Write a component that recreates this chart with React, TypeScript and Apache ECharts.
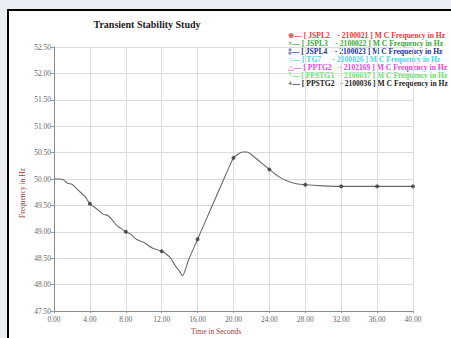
import React, { useEffect, useRef } from "react";
import * as echarts from "echarts";

const times = [0, 0.5, 1, 1.5, 2, 2.5, 3, 3.5, 4, 4.5, 5, 5.5, 6, 6.5, 7, 7.5, 8, 8.5, 9, 9.5, 10, 10.5, 11, 11.5, 12, 12.5, 13, 13.5, 14, 14.3, 15, 16, 17, 18, 19, 19.5, 20, 20.5, 21, 21.5, 22, 23, 24, 25, 26, 27, 28, 30, 32, 34, 36, 38, 40];
const freq = [50.0, 50.0, 49.99, 49.92, 49.9, 49.82, 49.74, 49.66, 49.53, 49.47, 49.4, 49.33, 49.31, 49.22, 49.12, 49.06, 49.0, 48.96, 48.88, 48.83, 48.8, 48.74, 48.69, 48.66, 48.63, 48.58, 48.5, 48.36, 48.25, 48.17, 48.47, 48.86, 49.25, 49.64, 50.03, 50.22, 50.4, 50.47, 50.51, 50.51, 50.46, 50.32, 50.18, 50.05, 49.96, 49.91, 49.89, 49.87, 49.86, 49.86, 49.86, 49.86, 49.86];
const markerTimes = [4, 8, 12, 16, 20, 24, 28, 32, 36, 40];

const legendLabels = [
  "⊕— [ JSPL2    - 2100021 ] M C Frequency in Hz",
  "×— [ JSPL3    - 2100022 ] M C Frequency in Hz",
  "‡— [ JSPL4    - 2100023 ] M C Frequency in Hz",
  "○— [ TG7      - 2100026 ] M C Frequency in Hz",
  "△— [ PPTG2    - 2102169 ] M C Frequency in Hz",
  "*— [ PPSTG3   - 2100037 ] M C Frequency in Hz",
  "+— [ PPSTG2   - 2100036 ] M C Frequency in Hz",
];
const legendColors = ["#e83a3a", "#3aa83a", "#22309a", "#4cd4e4", "#e048e0", "#66e066", "#222222"];

const title = "Transient Stability Study";
const xName = "Time in Seconds";
const yName = "Frequency in Hz";

export default function App() {
  const ref = useRef<HTMLDivElement>(null);
  useEffect(() => {
    const chart = echarts.init(ref.current!, null, { renderer: "svg" });
    const lineData = times.map((t, i) => [t, freq[i]]);
    const markerData = markerTimes.map((t) => [t, freq[times.indexOf(t)]]);
    const serif = "'Liberation Serif', 'DejaVu Serif', serif";
    const graphics: any[] = [
      {
        type: "rect",
        shape: { x: 8, y: 10, width: 460, height: 340 },
        style: { fill: "#ffffff", stroke: "#000000", lineWidth: 2 },
        z: -10,
        silent: true,
      },
      {
        type: "text",
        x: 147,
        y: 24,
        style: { text: title, font: `bold 10px ${serif}`, fill: "#222", align: "center", verticalAlign: "middle" },
      },
      {
        type: "text",
        x: 216,
        y: 331,
        style: { text: xName, font: `7.5px ${serif}`, fill: "#a0403a", align: "center", verticalAlign: "middle" },
      },
      {
        type: "text",
        x: 22,
        y: 193,
        rotation: Math.PI / 2,
        style: { text: yName, font: `7.5px ${serif}`, fill: "#a0403a", align: "center", verticalAlign: "middle" },
      },
    ];
    legendLabels.forEach((lab, i) => {
      graphics.push({
        type: "text",
        x: 288,
        y: 35 + i * 8.1,
        style: { text: lab, font: `bold 7.6px ${serif}`, fill: legendColors[i], align: "left", verticalAlign: "middle" },
      });
    });
    chart.setOption({
      animation: false,
      backgroundColor: "#eceef6",
      graphic: graphics,
      grid: { left: 54, right: 38, top: 47, bottom: 27 },
      xAxis: {
        type: "value",
        min: 0,
        max: 40,
        interval: 4,
        axisLine: { lineStyle: { color: "#8a8a8a" } },
        axisTick: { show: true, length: 2, lineStyle: { color: "#999" } },
        axisLabel: { formatter: (v: number) => v.toFixed(2), fontFamily: serif, fontSize: 7.5, color: "#666", margin: 4 },
        splitLine: { show: true, lineStyle: { color: "#dcdcdc" } },
      },
      yAxis: {
        type: "value",
        min: 47.5,
        max: 52.5,
        interval: 0.5,
        axisLine: { show: true, lineStyle: { color: "#8a8a8a" } },
        axisTick: { show: true, length: 3, lineStyle: { color: "#999" } },
        axisLabel: { formatter: (v: number) => v.toFixed(2), fontFamily: serif, fontSize: 7.5, color: "#666", margin: 3 },
        splitLine: { show: true, lineStyle: { color: "#dcdcdc" } },
      },
      series: [
        {
          type: "line",
          data: lineData,
          showSymbol: false,
          smooth: 0.3,
          lineStyle: { color: "#6a6a6a", width: 1.1 },
          z: 2,
        },
        {
          type: "scatter",
          data: markerData,
          symbol: "circle",
          symbolSize: 4,
          itemStyle: { color: "#3a3a3a" },
          z: 3,
        },
      ],
    });
    return () => chart.dispose();
  }, []);
  return <div ref={ref} style={{ position: "absolute", left: 0, top: 0, width: 451, height: 338 }} />;
}
